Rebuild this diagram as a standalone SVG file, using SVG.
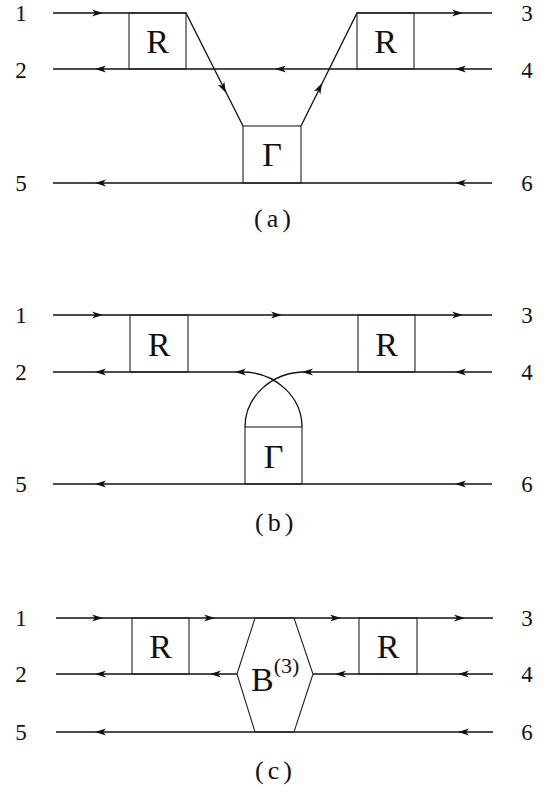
<svg xmlns="http://www.w3.org/2000/svg" xmlns:xlink="http://www.w3.org/1999/xlink" width="549" height="793" viewBox="0 0 549 793">
<style>
.ln{fill:none;stroke:#111;stroke-width:1.3}
.bx{fill:none;stroke:#222;stroke-width:1.1}
.t{font-family:"Liberation Serif","Times New Roman",serif;fill:#111}
.num{font-size:23px;text-anchor:middle}
.big{font-size:34px;text-anchor:middle}
.cap{font-size:26px;letter-spacing:4px}
</style>
<defs>
<path id="ah" d="M0,0 L-11,-3.6 L-8,0 L-11,3.6 Z" fill="#111"/>
</defs>
<rect width="549" height="793" fill="#fff"/>

<g id="connectors">
  <!-- panel a -->
  <path class="ln" d="M53,13 H186 L243,126"/>
  <path class="ln" d="M301,126 L357,13 H492"/>
  <path class="ln" d="M492,69 H53"/>
  <path class="ln" d="M492,183 H53"/>
  <use xlink:href="#ah" transform="translate(103,13)"/>
  <use xlink:href="#ah" transform="translate(463,13)"/>
  <use xlink:href="#ah" transform="translate(95,69) rotate(180)"/>
  <use xlink:href="#ah" transform="translate(275,69) rotate(180)"/>
  <use xlink:href="#ah" transform="translate(455,69) rotate(180)"/>
  <use xlink:href="#ah" transform="translate(95,183) rotate(180)"/>
  <use xlink:href="#ah" transform="translate(455,183) rotate(180)"/>
  <use xlink:href="#ah" transform="translate(226,93) rotate(63.2)"/>
  <use xlink:href="#ah" transform="translate(322,83) rotate(-63.6)"/>
  <!-- panel b -->
  <path class="ln" d="M53,315 H492"/>
  <path class="ln" d="M242,372 H53"/>
  <path class="ln" d="M492,372 H305"/>
  <path class="ln" d="M245,427 A60,55 0 0 1 305,372"/>
  <path class="ln" d="M302,427 A60,55 0 0 0 242,372"/>
  <path class="ln" d="M492,484 H53"/>
  <use xlink:href="#ah" transform="translate(103,315)"/>
  <use xlink:href="#ah" transform="translate(282,315)"/>
  <use xlink:href="#ah" transform="translate(463,315)"/>
  <use xlink:href="#ah" transform="translate(95,372) rotate(180)"/>
  <use xlink:href="#ah" transform="translate(235,372) rotate(180)"/>
  <use xlink:href="#ah" transform="translate(302,372) rotate(180)"/>
  <use xlink:href="#ah" transform="translate(455,372) rotate(180)"/>
  <use xlink:href="#ah" transform="translate(95,484) rotate(180)"/>
  <use xlink:href="#ah" transform="translate(455,484) rotate(180)"/>
  <!-- panel c -->
  <path class="ln" d="M56,618 H493"/>
  <path class="ln" d="M237,674 H56"/>
  <path class="ln" d="M493,674 H313"/>
  <path class="ln" d="M493,732 H56"/>
  <use xlink:href="#ah" transform="translate(103,618)"/>
  <use xlink:href="#ah" transform="translate(215,618)"/>
  <use xlink:href="#ah" transform="translate(341,618)"/>
  <use xlink:href="#ah" transform="translate(465,618)"/>
  <use xlink:href="#ah" transform="translate(95,674) rotate(180)"/>
  <use xlink:href="#ah" transform="translate(210,674) rotate(180)"/>
  <use xlink:href="#ah" transform="translate(335,674) rotate(180)"/>
  <use xlink:href="#ah" transform="translate(458,674) rotate(180)"/>
  <use xlink:href="#ah" transform="translate(95,732) rotate(180)"/>
  <use xlink:href="#ah" transform="translate(458,732) rotate(180)"/>
</g>

<!-- panel a nodes -->
<g id="a-R1"><rect class="bx" x="129" y="13" width="57" height="56"/><text class="t big" x="157.5" y="53">R</text></g>
<g id="a-R2"><rect class="bx" x="357" y="13" width="57" height="56"/><text class="t big" x="385.5" y="53">R</text></g>
<g id="a-G"><rect class="bx" x="243" y="126" width="58" height="57"/><text class="t big" x="272" y="166">Γ</text></g>
<g id="a-labels" class="t num">
  <text x="21" y="21">1</text><text x="21" y="78">2</text><text x="21" y="191">5</text>
  <text x="527" y="21">3</text><text x="527" y="78">4</text><text x="527" y="191">6</text>
</g>
<text id="cap-a" class="t cap" x="254" y="227">(a)</text>

<!-- panel b nodes -->
<g id="b-R1"><rect class="bx" x="130" y="315" width="58" height="57"/><text class="t big" x="159" y="356">R</text></g>
<g id="b-R2"><rect class="bx" x="358" y="315" width="57" height="57"/><text class="t big" x="386.5" y="356">R</text></g>
<g id="b-G"><rect class="bx" x="245" y="427" width="57" height="57"/><text class="t big" x="273.5" y="468">Γ</text></g>
<g id="b-labels" class="t num">
  <text x="21" y="323">1</text><text x="21" y="380">2</text><text x="21" y="492">5</text>
  <text x="527" y="323">3</text><text x="527" y="380">4</text><text x="527" y="492">6</text>
</g>
<text id="cap-b" class="t cap" x="255" y="531">(b)</text>

<!-- panel c nodes -->
<g id="c-R1"><rect class="bx" x="132" y="618" width="57" height="56"/><text class="t big" x="160.5" y="658">R</text></g>
<g id="c-R2"><rect class="bx" x="359" y="618" width="58" height="56"/><text class="t big" x="388" y="658">R</text></g>
<g id="c-B3"><polygon class="bx" points="255,618 294,618 313,674 294,732 255,732 237,674"/>
  <text class="t" x="251" y="691" font-size="34">B<tspan font-size="22" dy="-18">(3)</tspan></text></g>
<g id="c-labels" class="t num">
  <text x="21" y="626">1</text><text x="21" y="682">2</text><text x="21" y="740">5</text>
  <text x="527" y="626">3</text><text x="527" y="682">4</text><text x="527" y="740">6</text>
</g>
<text id="cap-c" class="t cap" x="255" y="779">(c)</text>
</svg>
